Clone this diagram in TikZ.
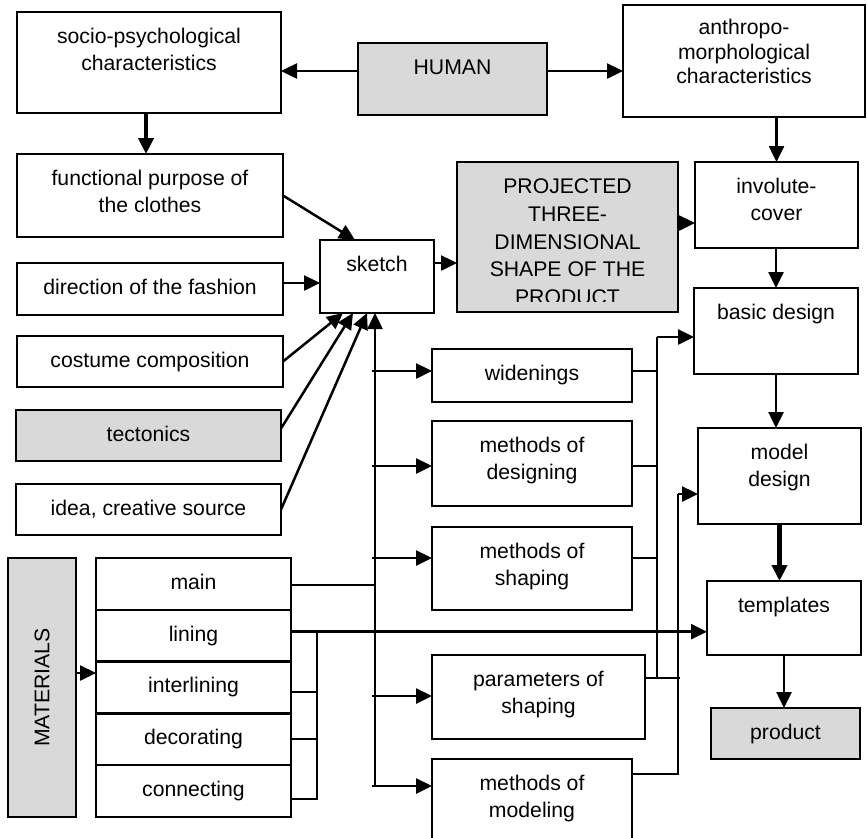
\documentclass[tikz,border=0pt]{standalone}
\usepackage{fontspec}
\setmainfont{Liberation Sans}
\usetikzlibrary{arrows.meta}
\definecolor{shade}{HTML}{D9D9D9}
\tikzset{
  box/.style={draw, line width=1.25pt, inner sep=0pt, outer sep=0pt, fill=white},
  grey/.style={box, fill=shade},
  lbl/.style={anchor=north, align=center, inner sep=0pt, font=\fontsize{10.6}{13.5}\selectfont},
  arr/.style={line width=1.25pt, -{Triangle[length=8pt,width=7.5pt]}},
  heavy/.style={line width=2.3pt, -{Triangle[length=8pt,width=7.5pt]}},
  wire/.style={line width=1pt},
}
\begin{document}
% coordinates are on a 0.5pt grid, y pointing down
\begin{tikzpicture}[x=0.5pt,y=-0.5pt]
\useasboundingbox (0,0) rectangle (867,837);

% ---------- boxes ----------
\node[box, minimum width=132pt, minimum height=50.5pt] (socio) at (149,62.5) {};
\node[grey, minimum width=94.5pt, minimum height=36pt] (human) at (452.5,79) {};
\node[box, minimum width=121pt, minimum height=56pt] (anthropo) at (744,61) {};
\node[box, minimum width=133pt, minimum height=41.5pt] (functional) at (150,195.5) {};
\node[box, minimum width=133pt, minimum height=26pt] (direction) at (150,289) {};
\node[box, minimum width=133pt, minimum height=25.5pt] (costume) at (150,361.5) {};
\node[grey, minimum width=132.5pt, minimum height=25.5pt] (tectonics) at (148.5,435.5) {};
\node[box, minimum width=132.5pt, minimum height=25.5pt] (idea) at (148.5,509.5) {};
\node[box, minimum width=57pt, minimum height=36.5pt] (sketch) at (377,276.5) {};
\node[grey, minimum width=110.5pt, minimum height=75pt] (projected) at (567.5,237) {};
\node[box, minimum width=81.5pt, minimum height=43pt] (involute) at (776.5,205) {};
\node[box, minimum width=82pt, minimum height=43pt] (basic) at (776,331) {};
\node[box, minimum width=81.5pt, minimum height=48pt] (model) at (779.5,476) {};
\node[box, minimum width=77pt, minimum height=37pt] (templates) at (784,618) {};
\node[grey, minimum width=74.5pt, minimum height=25.5pt] (product) at (785.5,733.5) {};
\node[box, minimum width=100pt, minimum height=26.5pt] (widenings) at (532,375.5) {};
\node[box, minimum width=100pt, minimum height=42.5pt] (designing) at (532,463.5) {};
\node[box, minimum width=100pt, minimum height=41.5pt] (shaping) at (532,568.5) {};
\node[box, minimum width=106.5pt, minimum height=42pt] (parameters) at (538.5,697) {};
\node[box, minimum width=100pt, minimum height=43pt] (modeling) at (532,802) {};
\node[grey, minimum width=34pt, minimum height=129.5pt] (materials) at (42,687.5) {};
\node[box, minimum width=97.5pt, minimum height=25.9pt] (main) at (193.5,583.9) {};
\node[box, minimum width=97.5pt, minimum height=25.9pt] (lining) at (193.5,635.7) {};
\node[box, minimum width=97.5pt, minimum height=25.9pt] (interlining) at (193.5,687.5) {};
\node[box, minimum width=97.5pt, minimum height=25.9pt] (decorating) at (193.5,739.3) {};
\node[box, minimum width=97.5pt, minimum height=25.9pt] (connecting) at (193.5,791.1) {};

% ---------- texts ----------
\node[lbl] (socio-t) at ([yshift=-6pt]socio.north) {\strut socio-psychological\\characteristics};
\node[lbl] (human-t) at ([yshift=-6pt]human.north) {\strut HUMAN};
\node[lbl, font=\fontsize{10.6}{12.3}\selectfont] (anthropo-t) at ([yshift=-6pt]anthropo.north) {\strut anthropo-\\morphological\\characteristics};
\node[lbl] (functional-t) at ([yshift=-6pt]functional.north) {\strut functional purpose of\\the clothes};
\node[lbl] (direction-t) at ([yshift=-6pt]direction.north) {\strut direction of the fashion};
\node[lbl] (costume-t) at ([yshift=-6pt]costume.north) {\strut costume composition};
\node[lbl] (tectonics-t) at ([yshift=-6pt]tectonics.north) {\strut tectonics};
\node[lbl] (idea-t) at ([yshift=-6pt]idea.north) {\strut idea, creative source};
\node[lbl] (sketch-t) at ([yshift=-6pt]sketch.north) {\strut sketch};
\begin{scope}
  \clip (projected.north west) rectangle ([yshift=5.25pt]projected.south east);
  \node[lbl, font=\fontsize{10.6}{13.85}\selectfont] (projected-t) at ([yshift=-6pt]projected.north)
    {\strut PROJECTED\\THREE-\\DIMENSIONAL\\SHAPE OF THE\\PRODUCT};
\end{scope}
\node[lbl] (involute-t) at ([yshift=-6pt]involute.north) {\strut involute-\\cover};
\node[lbl] (basic-t) at ([yshift=-6pt]basic.north) {\strut basic design};
\node[lbl] (model-t) at ([yshift=-6pt]model.north) {\strut model\\design};
\node[lbl] (templates-t) at ([yshift=-6pt]templates.north) {\strut templates};
\node[lbl] (product-t) at ([yshift=-6pt]product.north) {\strut product};
\node[lbl] (widenings-t) at ([yshift=-6pt]widenings.north) {\strut widenings};
\node[lbl] (designing-t) at ([yshift=-6pt]designing.north) {\strut methods of\\designing};
\node[lbl] (shaping-t) at ([yshift=-6pt]shaping.north) {\strut methods of\\shaping};
\node[lbl] (parameters-t) at ([yshift=-6pt]parameters.north) {\strut parameters of\\shaping};
\node[lbl] (modeling-t) at ([yshift=-6pt]modeling.north) {\strut methods of\\modeling};
\node[lbl, anchor=center, rotate=90] (materials-t) at (materials.center) {MATERIALS};
\node[lbl] (main-t) at ([yshift=-6pt]main.north) {\strut main};
\node[lbl] (lining-t) at ([yshift=-6pt]lining.north) {\strut lining};
\node[lbl] (interlining-t) at ([yshift=-6pt]interlining.north) {\strut interlining};
\node[lbl] (decorating-t) at ([yshift=-6pt]decorating.north) {\strut decorating};
\node[lbl] (connecting-t) at ([yshift=-6pt]connecting.north) {\strut connecting};

% ---------- upper connectors ----------
\coordinate (hl) at ([yshift=4pt]human.west);
\coordinate (hr) at ([yshift=4pt]human.east);
\draw[arr] (hl) -- (hl -| socio.east);
\draw[arr] (hr) -- (hr -| anthropo.west);
\coordinate (sdown) at ([xshift=-1.5pt]socio.south);
\draw[heavy] (sdown) -- (sdown |- functional.north);
\draw[arr] (functional.east) -- ([xshift=-11pt]sketch.north);
\coordinate (dy) at ([yshift=3pt]direction.east);
\draw[arr] (dy) -- (dy -| sketch.west);
\draw[arr] (costume.east) -- ([xshift=-17pt]sketch.south);
\draw[arr] ([yshift=3.5pt]tectonics.east) -- ([xshift=-12pt]sketch.south);
\draw[arr] (idea.east) -- ([xshift=-5pt]sketch.south);
\coordinate (sy) at ([yshift=6.75pt]sketch.east);
\draw[arr] (sy) -- (sy -| projected.west);
\coordinate (py) at ([yshift=-9pt]involute.west);
\draw[arr] (py -| projected.east) -- (py);

% ---------- right column ----------
\draw[arr] (involute.north |- anthropo.south) -- (involute.north);
\draw[arr] (basic.north |- involute.south) -- (basic.north);
\draw[arr] (basic.south) -- (basic.south |- model.north);
\draw[heavy] (model.south) -- (model.south |- templates.north);
\draw[arr] (templates.south) -- (templates.south |- product.north);

% ---------- spine from the sketch ----------
\coordinate (spinetop) at ([xshift=-1pt]sketch.south);
\coordinate (spineL) at ([xshift=-1.5pt]spinetop);
\coordinate (wL) at ([yshift=2.25pt]widenings.west);
\coordinate (dL) at ([yshift=-1.25pt]designing.west);
\coordinate (sL) at ([yshift=5.25pt]shaping.west);
\coordinate (pL) at ([yshift=0.5pt]parameters.west);
\coordinate (mL) at ([yshift=8pt]modeling.west);
\draw[arr] (spinetop |- mL) -- (spinetop);
\foreach \c in {wL,dL,sL,pL,mL}
  \draw[arr] (spineL |- \c) -- (\c);

% ---------- collecting buses on the right ----------
\coordinate (busA) at ([xshift=-18.5pt,yshift=-3pt]basic.west);
\coordinate (busB) at ([xshift=-10pt,yshift=-9pt]model.west);
\coordinate (pR) at ([yshift=9.5pt]parameters.east);
\coordinate (mR) at ([yshift=14pt]modeling.east);
\draw[arr] (busA) -- ([yshift=-3pt]basic.west);
\draw[wire] (busA) -- (busA |- pR);
\draw[wire] (widenings.east |- wL) -- (busA |- wL);
\draw[wire] (designing.east |- dL) -- (busA |- dL);
\draw[wire] (shaping.east |- sL) -- (busA |- sL);
\coordinate (busBx) at ([xshift=1pt]busB);
\draw[wire] (pR) -- (busBx |- pR);
\draw[arr] (busB) -- ([yshift=-9pt]model.west);
\draw[wire] (busB) -- (busB |- mR) -- (mR);

% ---------- materials ----------
\coordinate (my) at ([yshift=7.25pt]materials.east);
\draw[arr] (my) -- (my -| main.west);
\coordinate (cmain) at ([yshift=-0.5pt]main.east);
\draw[wire] (cmain) -- (cmain -| spinetop);
\coordinate (lin) at ([yshift=2pt]lining.east);
\draw[arr] (lin) -- (lin -| templates.west);
\coordinate (lbus) at ([xshift=13pt]lin);
\coordinate (cint) at ([yshift=-2pt]interlining.east);
\coordinate (cdec) at ([yshift=0.25pt]decorating.east);
\coordinate (ccon) at ([yshift=-4pt]connecting.east);
\draw[wire] (lbus) -- (lbus |- ccon) -- (ccon);
\draw[wire] (cint) -- (cint -| lbus);
\draw[wire] (cdec) -- (cdec -| lbus);
\end{tikzpicture}
\end{document}
